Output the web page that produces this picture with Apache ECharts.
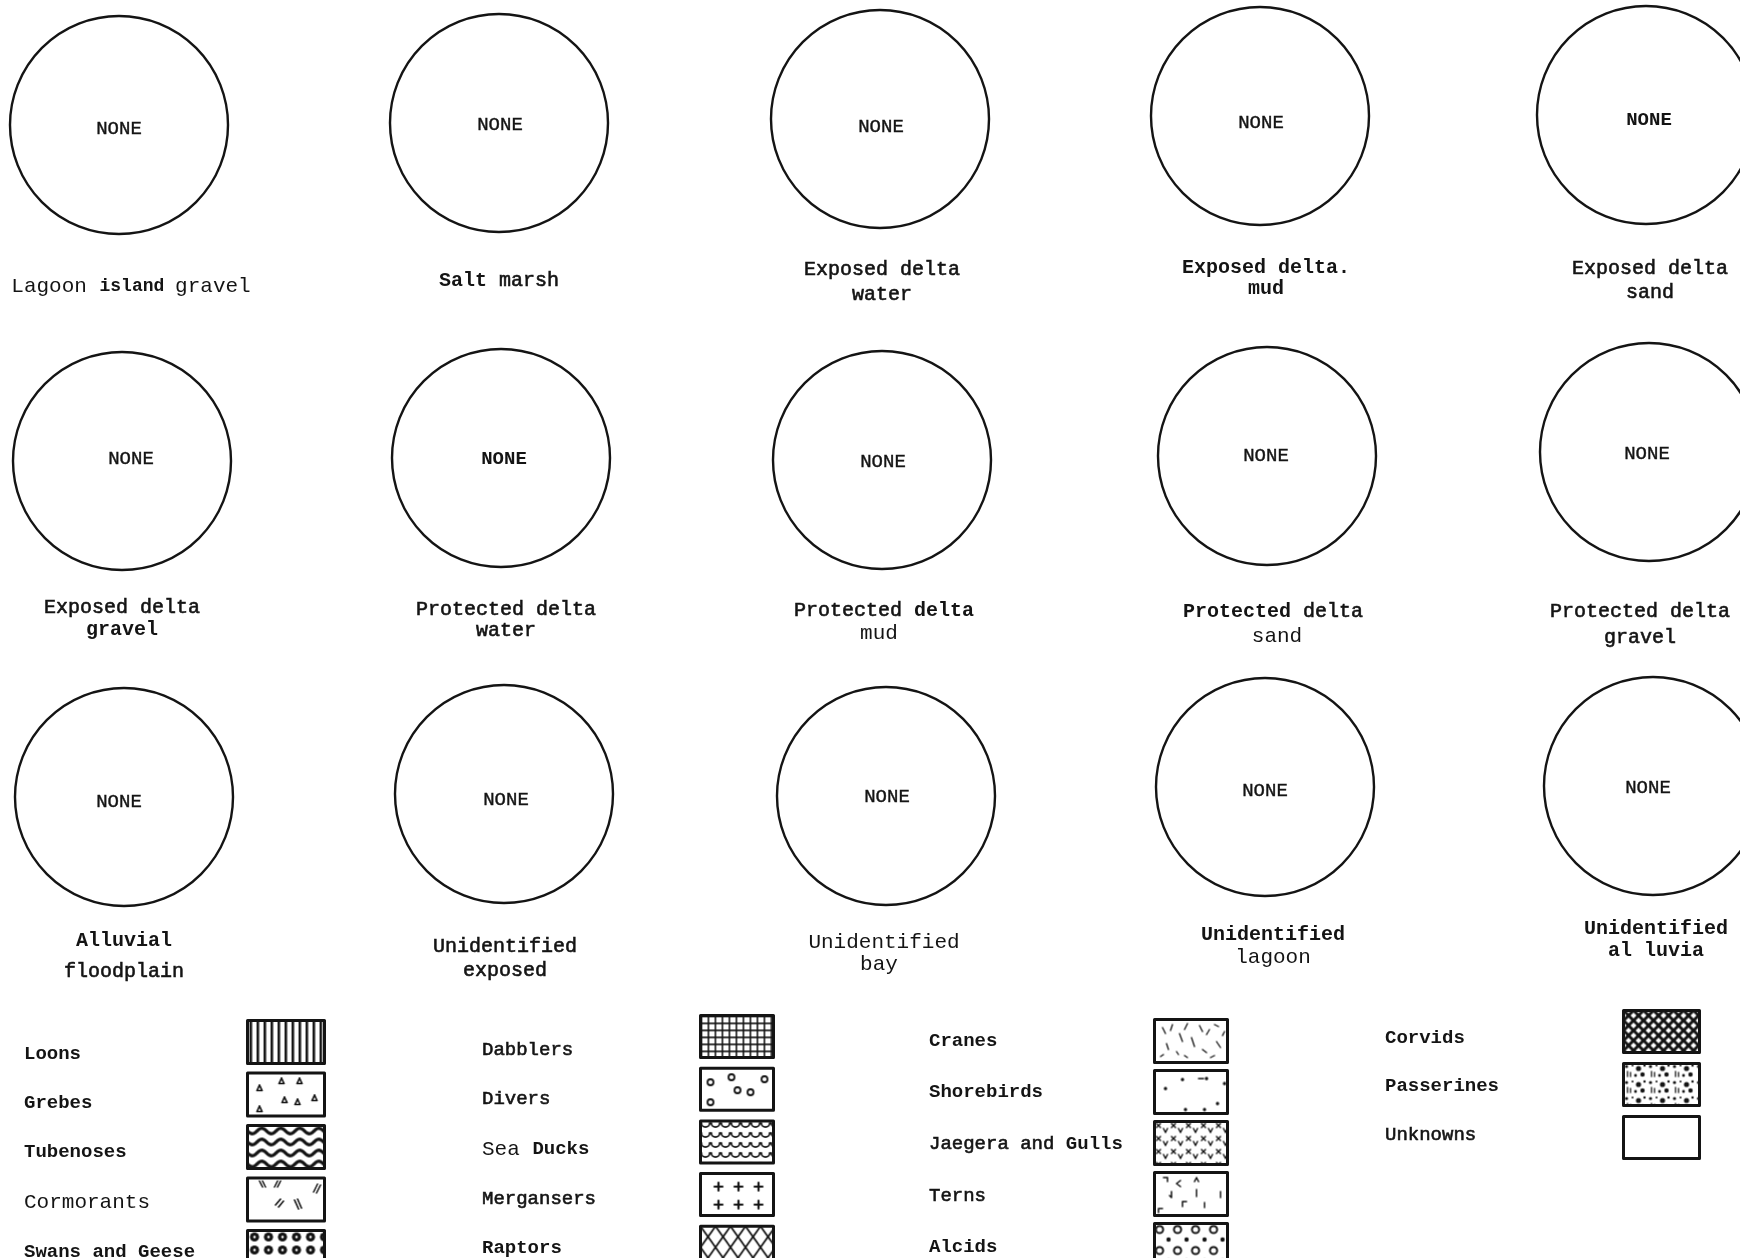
<!DOCTYPE html>
<html><head><meta charset="utf-8">
<script src="https://cdn.jsdelivr.net/npm/echarts@6/dist/echarts.min.js"></script>
<style>html,body{margin:0;padding:0;background:#fff}#c{width:1740px;height:1258px}</style>
</head><body><div id="c"></div>
<script>
// ---------------- DATA ----------------
const habitats = ['Lagoon island gravel','Salt marsh','Exposed delta water','Exposed delta mud','Exposed delta sand',
  'Exposed delta gravel','Protected delta water','Protected delta mud','Protected delta sand','Protected delta gravel',
  'Alluvial floodplain','Unidentified exposed','Unidentified bay','Unidentified lagoon','Unidentified alluvia'];
const species = ['Loons','Grebes','Tubenoses','Cormorants','Swans and Geese',
  'Dabblers','Divers','Sea Ducks','Mergansers','Raptors',
  'Cranes','Shorebirds','Jaegera and Gulls','Terns','Alcids',
  'Corvids','Passerines','Unknowns'];
// bird counts per habitat (every circle reads NONE)
const counts = [
  [0,0,0,0,0,0,0,0,0,0,0,0,0,0,0,0,0,0],
  [0,0,0,0,0,0,0,0,0,0,0,0,0,0,0,0,0,0],
  [0,0,0,0,0,0,0,0,0,0,0,0,0,0,0,0,0,0],
  [0,0,0,0,0,0,0,0,0,0,0,0,0,0,0,0,0,0],
  [0,0,0,0,0,0,0,0,0,0,0,0,0,0,0,0,0,0],
  [0,0,0,0,0,0,0,0,0,0,0,0,0,0,0,0,0,0],
  [0,0,0,0,0,0,0,0,0,0,0,0,0,0,0,0,0,0],
  [0,0,0,0,0,0,0,0,0,0,0,0,0,0,0,0,0,0],
  [0,0,0,0,0,0,0,0,0,0,0,0,0,0,0,0,0,0],
  [0,0,0,0,0,0,0,0,0,0,0,0,0,0,0,0,0,0],
  [0,0,0,0,0,0,0,0,0,0,0,0,0,0,0,0,0,0],
  [0,0,0,0,0,0,0,0,0,0,0,0,0,0,0,0,0,0],
  [0,0,0,0,0,0,0,0,0,0,0,0,0,0,0,0,0,0],
  [0,0,0,0,0,0,0,0,0,0,0,0,0,0,0,0,0,0],
  [0,0,0,0,0,0,0,0,0,0,0,0,0,0,0,0,0,0]
];
const emptyText = 'NONE';

// ---------------- LAYOUT / STYLE ----------------
const MONO = '"Liberation Mono","Courier New",monospace';
const INK = '#141414';
const pieCenters = [[119,125],[499,123],[880,119],[1260,116],[1646,115],
  [122,461],[501,458],[882,460],[1267,456],[1649,452],
  [124,797],[504,794],[886,796],[1265,787],[1653,786]];
const pieRadius = 109;
const noneLabelPos = [[119,129],[500,125],[881,127],[1261,123],[1649,120],
  [131,459],[504,459],[883,462],[1266,456],[1647,454],
  [119,802],[506,800],[887,797],[1265,791],[1648,788]];
const noneBold = [false,false,false,false,true,false,true,false,false,false,false,false,false,false,false];
const habitatLabelLines = [
  [['{t|Lagoon }{bs|island }{t|gravel}',131,286]],
  [['{b|Salt }{m|marsh}',499,281]],
  [['{m|Exposed delta}',882,270],['{m|water}',882,295]],
  [['{b|Exposed delta.}',1266,268],['{b|mud}',1266,289]],
  [['{m|Exposed delta}',1650,269],['{m|sand}',1650,293]],
  [['{m|Exposed delta}',122,608],['{b|gravel}',122,630]],
  [['{m|Protected delta}',506,610],['{m|water}',506,631]],
  [['{m|Protected }{b|delta}',884,611],['{t|mud}',879,633]],
  [['{b|Protected }{m|delta}',1273,612],['{t|sand}',1277,636]],
  [['{m|Protected delta}',1640,612],['{m|gravel}',1640,638]],
  [['{b|Alluvial}',124,941],['{m|floodplain}',124,972]],
  [['{m|Unidentified}',505,947],['{m|exposed}',505,971]],
  [['{t|Unidentified}',884,942],['{t|bay}',879,964]],
  [['{b|Unidentified}',1273,935],['{t|lagoon}',1273,957]],
  [['{b|Unidentified}',1656,929],['{b|al luvia}',1656,951]]
];
const speciesMarkup = ['{b|Loons}','{b|Grebes}','{b|Tubenoses}','{t|Cormorants}','{b|Swans and Geese}',
  '{m|Dabblers}','{m|Divers}','{t|Sea }{b|Ducks}','{m|Mergansers}','{b|Raptors}',
  '{b|Cranes}','{b|Shorebirds}','{m|Jaegera and }{b|Gulls}','{m|Terns}','{b|Alcids}',
  '{b|Corvids}','{b|Passerines}','{m|Unknowns}'];
const legendCols = [
  {idx:[0,1,2,3,4], textLeft:19, textTop:1044, textGap:29.3, iconLeft:246, iconTop:1019, iconW:77, iconH:43, iconGap:6.5},
  {idx:[5,6,7,8,9], textLeft:477, textTop:1040, textGap:29.3, iconLeft:699, iconTop:1014, iconW:73, iconH:42, iconGap:7.7},
  {idx:[10,11,12,13,14], textLeft:924, textTop:1031, textGap:31.5, iconLeft:1153, iconTop:1018, iconW:73, iconH:43, iconGap:5},
  {idx:[15,16,17], textLeft:1380, textTop:1028, textGap:28.5, iconLeft:1622, iconTop:1009, iconW:76, iconH:42, iconGap:8}
];

// ---------------- PATTERNS ----------------
function mk(w,h,fn){const c=document.createElement('canvas');c.width=w;c.height=h;const g=c.getContext('2d');
  g.fillStyle='#fff';g.fillRect(0,0,w,h);g.strokeStyle=INK;g.fillStyle=INK;g.lineCap='round';g.lineJoin='round';fn(g);
  return {image:c,repeat:'repeat'};}
function seg(g,p,lw){g.lineWidth=lw;g.beginPath();g.moveTo(p[0],p[1]);for(let i=2;i<p.length;i+=2)g.lineTo(p[i],p[i+1]);g.stroke();}
function ring(g,x,y,r,lw){g.lineWidth=lw;g.beginPath();g.arc(x,y,r,0,Math.PI*2);g.stroke();}
function dot(g,x,y,r){g.beginPath();g.arc(x,y,r,0,Math.PI*2);g.fill();}
function tri(g,x,y){seg(g,[x,y-3,x+2.5,y+2.5,x-2.5,y+2.5,x,y-3],1.7);}
const patterns = {
  'Loons': mk(7,10,g=>{g.fillRect(2,0,2.6,10);}),
  'Grebes': mk(77,43,g=>{[[12,15],[34,8],[52,8],[37,27],[50,29],[67,25],[12,36]].forEach(p=>tri(g,p[0],p[1]));}),
  'Tubenoses': mk(38,11,g=>{g.lineWidth=3.2;g.beginPath();for(let x=-1;x<=39;x++){const y=5.5+2.8*Math.sin(2*Math.PI*x/19);if(x<0)g.moveTo(x,y);else g.lineTo(x,y);}g.stroke();}),
  'Cormorants': mk(77,43,g=>{seg(g,[12,3,15,9],1.5);seg(g,[15,3,18,9],1.5);seg(g,[27,9,30,3],1.5);seg(g,[30,9,33,3],1.5);
     seg(g,[66,14,70,6],1.5);seg(g,[69,15,73,7],1.5);seg(g,[28,27,33,21],1.6);seg(g,[31,29,36,23],1.6);
     seg(g,[47,22,51,31],1.6);seg(g,[50,21,54,30],1.6);}),
  'Swans and Geese': mk(14,13,g=>{dot(g,7,6.5,4.6);g.fillStyle='#fff';dot(g,7,6.5,1.3);}),
  'Dabblers': mk(7,7,g=>{g.fillRect(0,0,1.6,7);g.fillRect(0,0,7,1.6);}),
  'Divers': mk(73,42,g=>{[[10,14],[31,9],[64,11],[37,22],[50,24],[10,34]].forEach(p=>ring(g,p[0],p[1],3,1.8));}),
  'Sea Ducks': mk(10,10,g=>{g.lineWidth=1.8;g.beginPath();g.arc(5,2,4.2,0,Math.PI);g.stroke();}),
  'Mergansers': mk(73,42,g=>{[[18,13],[38,13],[58,13],[18,31],[38,31],[58,31]].forEach(p=>{seg(g,[p[0]-4,p[1],p[0]+4,p[1]],2.2);seg(g,[p[0],p[1]-4,p[0],p[1]+4],2.2);});}),
  'Raptors': mk(15,42,g=>{seg(g,[0,0,15,21,0,42],1.8);seg(g,[15,0,0,21,15,42],1.8);}),
  'Cranes': mk(73,43,g=>{[[8,8,11,14],[18,5,16,11],[25,14,28,22],[33,4,30,10],[37,18,40,27],[45,6,48,12],[52,15,55,10],
     [60,5,64,7],[12,24,14,30],[22,32,24,35],[48,30,52,33],[62,22,66,28],[30,36,33,38],[56,38,60,36],[6,37,9,35],[68,16,70,12]].forEach(s=>seg(g,s,1.3));}),
  'Shorebirds': mk(73,43,g=>{[[28,9],[52,8],[11,18],[70,13],[63,33],[31,39],[50,39]].forEach(p=>dot(g,p[0],p[1],1.7));seg(g,[44,8,49,8],1.3);}),
  'Jaegera and Gulls': mk(15,13,g=>{seg(g,[2,2,6,6],1.4);seg(g,[6,2,2,6],1.4);seg(g,[9,7,11,11,13,7],1.4);}),
  'Terns': mk(73,42,g=>{[[9,5,13,5,13,9],[26,8,22,11,26,14],[40,9,42,5,44,9],[17,19,17,25,15,23],[42,17,42,24],[66,19,66,25],
     [28,34,28,29,32,29],[50,30,50,35],[4,40,4,36,8,36]].forEach(s=>seg(g,s,1.5));}),
  'Alcids': mk(18,21,g=>{ring(g,5,6,3.6,2);dot(g,14,16,2.2);}),
  'Corvids': mk(10,10,g=>{seg(g,[-1,-1,11,11],3);seg(g,[11,-1,-1,11],3);}),
  'Passerines': mk(24,16,g=>{dot(g,3,3,1.6);dot(g,9,2,1);dot(g,15,5,2.6);dot(g,21,2,1.2);seg(g,[4,8,4,13],1.3);seg(g,[7,9,7,13],1.3);
     dot(g,12,12,1.4);dot(g,19,11,2.2);}),
  'Unknowns': mk(8,8,g=>{})
};

// ---------------- OPTION ----------------
const richLabel = {
  b:{fontFamily:MONO,fontSize:20,fontWeight:'bold',fill:INK},
  bs:{fontFamily:MONO,fontSize:18,fontWeight:'bold',fill:INK},
  m:{fontFamily:MONO,fontSize:20,fontWeight:'normal',fill:INK,stroke:INK,lineWidth:0.6},
  t:{fontFamily:MONO,fontSize:21,fontWeight:'normal',fill:INK}
};
const richLegend = {
  b:{fontFamily:MONO,fontSize:19,fontWeight:'bold',color:INK,lineHeight:20},
  m:{fontFamily:MONO,fontSize:19,fontWeight:'normal',color:INK,textBorderColor:INK,textBorderWidth:0.6,lineHeight:20},
  t:{fontFamily:MONO,fontSize:21,fontWeight:'normal',color:INK,lineHeight:20}
};

const series = habitats.map((h,i)=>({
  type:'pie', name:h, center:pieCenters[i], radius:pieRadius, silent:true, z:1,
  label:{show:false}, labelLine:{show:false},
  showEmptyCircle:true,
  emptyCircleStyle:{color:'#fff',borderColor:INK,borderWidth:2.4,opacity:1},
  data: species.map((s,j)=>({name:s,value:counts[i][j],itemStyle:{color:patterns[s],borderColor:INK,borderWidth:1}}))
         .filter(d=>d.value>0)
}));
// legend key: provides the species swatches
const totals = species.map((s,j)=>counts.reduce((a,row)=>a+row[j],0));
series.push({type:'pie', name:'key', center:[-400,-400], radius:0, silent:true,
  label:{show:false}, labelLine:{show:false},
  data: species.map((s,j)=>({name:s,value:totals[j],itemStyle:{color:patterns[s],borderColor:INK,borderWidth:3}}))});

const legends = [];
legendCols.forEach((c,k)=>{
  const names = c.idx.map(i=>species[i]);
  legends.push({id:'icons'+k, data:names, orient:'vertical', left:c.iconLeft, top:c.iconTop, height:400, padding:0,
    itemWidth:c.iconW, itemHeight:c.iconH, itemGap:c.iconGap, icon:'rect', selectedMode:false,
    formatter:()=>'', itemStyle:{borderColor:INK,borderWidth:3}});
  legends.push({id:'text'+k, data:names, orient:'vertical', left:c.textLeft, top:c.textTop, height:400, padding:0,
    itemWidth:0, itemHeight:20, itemGap:c.textGap, icon:'none', selectedMode:false,
    formatter:n=>speciesMarkup[species.indexOf(n)], textStyle:{lineHeight:20, rich:richLegend}});
});

const elements = [];
habitats.forEach((h,i)=>{
  const total = counts[i].reduce((a,b)=>a+b,0);
  if (total===0) {
    elements.push({type:'text', x:noneLabelPos[i][0], y:noneLabelPos[i][1], silent:true, z:100,
      style:{text:emptyText, fontFamily:MONO, fontSize:19, fontWeight:(noneBold[i]?'bold':'normal'), fill:INK,
             stroke:INK, lineWidth:(noneBold[i]?0:0.4),
             align:'center', verticalAlign:'middle', textAlign:'center', textVerticalAlign:'middle'}});
  }
  habitatLabelLines[i].forEach(l=>{
    elements.push({type:'text', x:l[1], y:l[2], silent:true, z:100,
      style:{text:l[0], rich:richLabel, fill:INK, align:'center', verticalAlign:'middle', textAlign:'center', textVerticalAlign:'middle'}});
  });
});

const chart = echarts.init(document.getElementById('c'), null, {renderer:'canvas'});
chart.setOption({
  backgroundColor:'#fff',
  animation:false,
  legend:legends,
  series:series,
  graphic:{elements:elements}
});
</script>
</body></html>
